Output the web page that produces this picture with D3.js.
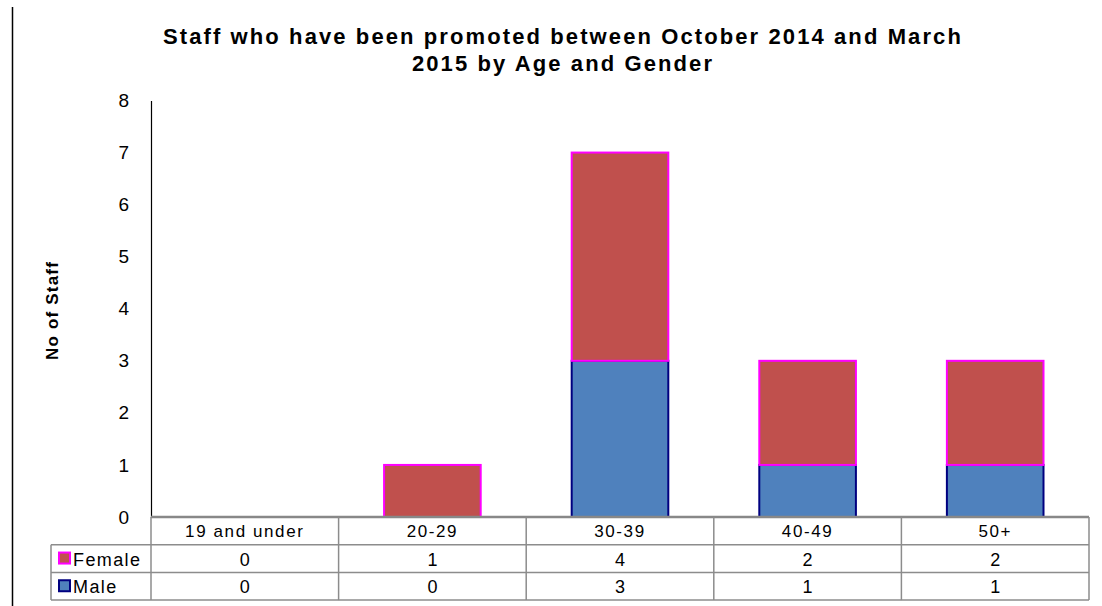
<!DOCTYPE html>
<html>
<head>
<meta charset="utf-8">
<script src="https://cdn.jsdelivr.net/npm/d3@7"></script>
<style>
    body { margin: 0; background: #fff; }
    text { font-family: "Liberation Sans", Arial, sans-serif; fill: #000; }
</style>
</head>
<body>
<div id="chart"></div>
<script>
const width = 1102;
const height = 606;

const categories = ["19 and under", "20-29", "30-39", "40-49", "50+"];
const male = [0, 0, 3, 1, 1];
const female = [0, 1, 4, 2, 2];
const yTicks = [0, 1, 2, 3, 4, 5, 6, 7, 8];

const series = [
    { name: "Male", values: male, fill: "#4F81BD", stroke: "#000080" },
    { name: "Female", values: female, fill: "#C0504D", stroke: "#FF00FF" }
];

const margin = { top: 100, right: 13, bottom: 89, left: 151 };
const tableRow = 27.7;
const tableLeft = 51;

const svg = d3.select("#chart")
    .append("svg")
    .attr("width", width)
    .attr("height", height);

// LEFT BORDER
svg.append("line")
    .attr("x1", 12.5).attr("x2", 12.5)
    .attr("y1", 7).attr("y2", height)
    .attr("stroke", "#000")
    .attr("stroke-width", 1.5);

// SCALES
const x = d3.scaleBand()
    .domain(categories)
    .range([margin.left, width - margin.right])
    .paddingInner(0)
    .paddingOuter(0);

const y = d3.scaleLinear()
    .domain([0, 8])
    .range([height - margin.bottom, margin.top + 0.5]);

const barW = x.bandwidth() * 0.515;

// STACK
const rows = categories.map((c, i) => ({ cat: c, Male: male[i], Female: female[i] }));
const stacked = d3.stack().keys(["Male", "Female"])(rows);

stacked.forEach((layer, li) => {
    const s = series[li];
    svg.append("g")
        .selectAll("rect")
        .data(layer.filter(d => d[1] - d[0] > 0))
        .join("rect")
        .attr("x", d => x(d.data.cat) + (x.bandwidth() - barW) / 2)
        .attr("y", d => y(d[1]))
        .attr("width", barW)
        .attr("height", d => y(d[0]) - y(d[1]))
        .attr("fill", s.fill)
        .attr("stroke", s.stroke)
        .attr("stroke-width", 2);
});

// Y AXIS
const yAxis = svg.append("g")
    .attr("transform", `translate(${margin.left},0)`)
    .call(d3.axisLeft(y).tickValues(yTicks).tickSize(0).tickPadding(22));
yAxis.select(".domain").attr("stroke", "#000").attr("stroke-width", 1.2);
yAxis.selectAll("text")
    .style("font-size", "19px")
    .style("font-family", "Liberation Sans, Arial, sans-serif");

// Y LABEL
svg.append("text")
    .attr("transform", `translate(58,${(margin.top + height - margin.bottom) / 2 + 2}) rotate(-90)`)
    .attr("text-anchor", "middle")
    .style("font-size", "17px")
    .style("font-weight", "bold")
    .style("letter-spacing", "1.2px")
    .text("No of Staff");

// TITLE
const title = svg.append("text")
    .attr("text-anchor", "middle")
    .style("font-size", "22px")
    .style("font-weight", "bold")
    .style("letter-spacing", "2.1px");
title.append("tspan").attr("x", 563).attr("y", 44).text("Staff who have been promoted between October 2014 and March");
title.append("tspan").attr("x", 563).attr("y", 71).text("2015 by Age and Gender");

// DATA TABLE
const baseY = height - margin.bottom;
const gridColor = "#8c8c8c";
const table = svg.append("g");

// horizontal lines
[0, 1, 2, 3].forEach(r => {
    table.append("line")
        .attr("x1", r === 0 ? margin.left : tableLeft)
        .attr("x2", width - margin.right)
        .attr("y1", baseY + r * tableRow)
        .attr("y2", baseY + r * tableRow)
        .attr("stroke", r === 0 ? "#888" : gridColor)
        .attr("stroke-width", r === 0 ? 2.5 : 1.5);
});

// vertical lines
categories.forEach(c => {
    table.append("line")
        .attr("x1", x(c)).attr("x2", x(c))
        .attr("y1", baseY).attr("y2", baseY + 3 * tableRow)
        .attr("stroke", gridColor)
        .attr("stroke-width", 1.5);
});
table.append("line")
    .attr("x1", width - margin.right).attr("x2", width - margin.right)
    .attr("y1", baseY).attr("y2", baseY + 3 * tableRow)
    .attr("stroke", gridColor).attr("stroke-width", 1.5);
table.append("line")
    .attr("x1", tableLeft).attr("x2", tableLeft)
    .attr("y1", baseY + tableRow).attr("y2", baseY + 3 * tableRow)
    .attr("stroke", gridColor).attr("stroke-width", 1.5);

// category headers
table.selectAll(".cat")
    .data(categories)
    .join("text")
    .attr("x", d => x(d) + x.bandwidth() / 2)
    .attr("y", baseY + tableRow / 2 + 6)
    .attr("text-anchor", "middle")
    .style("font-size", "17px")
    .style("letter-spacing", "1.6px")
    .text(d => d);

// value rows (Female first, then Male)
const tableSeries = [series[1], series[0]];
tableSeries.forEach((s, r) => {
    const cy = baseY + (r + 1) * tableRow + tableRow / 2;
    table.append("rect")
        .attr("x", tableLeft + 8)
        .attr("y", cy - 6)
        .attr("width", 11)
        .attr("height", 11)
        .attr("fill", s.fill)
        .attr("stroke", s.stroke)
        .attr("stroke-width", 2);
    table.append("text")
        .attr("x", tableLeft + 22)
        .attr("y", cy + 7)
        .style("font-size", "18px")
        .style("letter-spacing", "1.4px")
        .text(s.name);
    table.selectAll(null)
        .data(s.values)
        .join("text")
        .attr("x", (d, i) => x(categories[i]) + x.bandwidth() / 2)
        .attr("y", cy + 7)
        .attr("text-anchor", "middle")
        .style("font-size", "18px")
        .text(d => d);
});
</script>
</body>
</html>
